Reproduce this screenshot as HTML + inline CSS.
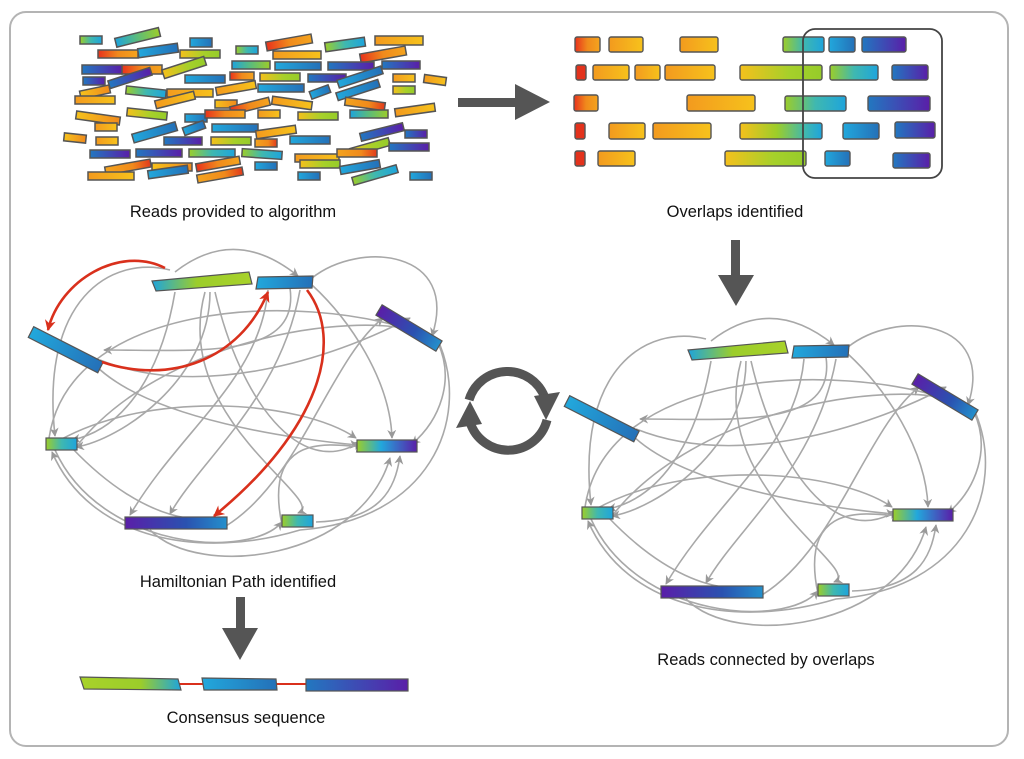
<!DOCTYPE html>
<html><head><meta charset="utf-8"><style>
html,body{margin:0;padding:0;background:#fff;}
svg{display:block;}
text{font-family:"Liberation Sans",sans-serif;font-size:16.5px;fill:#111;text-anchor:middle;}
</style></head><body>
<svg width="1024" height="759" viewBox="0 0 1024 759" xmlns="http://www.w3.org/2000/svg">
<defs>
<linearGradient id="ro"><stop offset="0" stop-color="#e8321c"/><stop offset=".5" stop-color="#f08a1c"/><stop offset="1" stop-color="#f4a41e"/></linearGradient>
<linearGradient id="oy"><stop offset="0" stop-color="#f39a1e"/><stop offset="1" stop-color="#f6c21c"/></linearGradient>
<linearGradient id="yo"><stop offset="0" stop-color="#f6c21c"/><stop offset="1" stop-color="#f08a1c"/></linearGradient>
<linearGradient id="or"><stop offset="0" stop-color="#f4a41e"/><stop offset=".6" stop-color="#f08a1c"/><stop offset="1" stop-color="#e23a1c"/></linearGradient>
<linearGradient id="yg"><stop offset="0" stop-color="#f5c01c"/><stop offset=".6" stop-color="#a6d02a"/><stop offset="1" stop-color="#96cc2a"/></linearGradient>
<linearGradient id="gc"><stop offset="0" stop-color="#9ccd2a"/><stop offset=".5" stop-color="#3fb8b0"/><stop offset="1" stop-color="#1ea4dc"/></linearGradient>
<linearGradient id="cg"><stop offset="0" stop-color="#1ea4dc"/><stop offset=".5" stop-color="#5cbc7a"/><stop offset="1" stop-color="#9ccd2a"/></linearGradient>
<linearGradient id="cb"><stop offset="0" stop-color="#22a8dc"/><stop offset="1" stop-color="#2470b8"/></linearGradient>
<linearGradient id="bp"><stop offset="0" stop-color="#2278c0"/><stop offset="1" stop-color="#5a1ea8"/></linearGradient>
<linearGradient id="pb"><stop offset="0" stop-color="#5a1ea8"/><stop offset=".6" stop-color="#2a52b0"/><stop offset="1" stop-color="#2490cc"/></linearGradient>
<linearGradient id="ygc"><stop offset="0" stop-color="#f5c01c"/><stop offset=".45" stop-color="#9ccd2a"/><stop offset=".8" stop-color="#3fb8b0"/><stop offset="1" stop-color="#1ea4dc"/></linearGradient>
<linearGradient id="gcp"><stop offset="0" stop-color="#9ccd2a"/><stop offset=".4" stop-color="#22a8dc"/><stop offset="1" stop-color="#5a1ea8"/></linearGradient>
<linearGradient id="cgg"><stop offset="0" stop-color="#1ea4dc"/><stop offset=".45" stop-color="#9ccd2a"/><stop offset="1" stop-color="#a8d22a"/></linearGradient>
<linearGradient id="ggc"><stop offset="0" stop-color="#a8d22a"/><stop offset=".6" stop-color="#9ccd2a"/><stop offset="1" stop-color="#1ea4dc"/></linearGradient>
<marker id="ga" viewBox="0 0 10 10" refX="9" refY="5" markerWidth="9" markerHeight="9" orient="auto" markerUnits="userSpaceOnUse"><path d="M0,0 L10,5 L0,10 L3,5 z" fill="#999"/></marker>
<marker id="ra" viewBox="0 0 10 10" refX="9" refY="5" markerWidth="11" markerHeight="11" orient="auto" markerUnits="userSpaceOnUse"><path d="M0,0 L10,5 L0,10 L3,5 z" fill="#d9301c"/></marker>
<g id="graph">
 <g fill="none" stroke="#a8a8a8" stroke-width="1.6" marker-end="url(#ga)">
  <path d="M175,272 Q235,225 298,276"/>
  <path d="M312,278 C360,240 460,250 432,336"/>
  <path d="M170,270 C110,255 40,300 55,436"/>
  <path d="M100,360 C200,400 330,360 410,318"/>
  <path d="M290,288 C300,360 200,350 104,350"/>
  <path d="M175,292 C160,380 120,430 72,440"/>
  <path d="M210,292 C210,380 120,440 76,447"/>
  <path d="M205,292 C170,420 330,500 298,513"/>
  <path d="M215,292 C240,400 300,480 360,442"/>
  <path d="M268,290 C260,380 180,430 130,515"/>
  <path d="M300,290 C280,400 200,460 170,514"/>
  <path d="M312,285 C350,320 390,380 392,438"/>
  <path d="M438,343 C455,380 440,420 412,444"/>
  <path d="M95,365 C150,420 300,440 358,445"/>
  <path d="M60,440 C150,390 300,400 356,438"/>
  <path d="M76,447 C160,340 350,310 420,332"/>
  <path d="M55,450 C100,550 250,560 282,522"/>
  <path d="M226,526 C300,480 330,360 383,318"/>
  <path d="M150,530 C200,580 360,560 390,458"/>
  <path d="M48,447 C60,300 300,290 420,333"/>
  <path d="M316,522 C380,520 395,490 400,456"/>
  <path d="M282,525 C260,420 350,450 362,446"/>
  <path d="M72,448 C150,530 210,520 212,517"/>
  <path d="M440,345 C470,420 430,520 300,530 C200,560 90,540 52,452"/>
 </g>
 <polygon points="152,281 249,272 252,284 156,291" fill="url(#cgg)" stroke="#555" stroke-width="1.2"/>
 <polygon points="258,277 313,276 312,288 256,289" fill="url(#cb)" stroke="#555" stroke-width="1.2"/>
 <g transform="translate(31,332) rotate(27)"><rect x="0" y="-6" width="78" height="12" fill="url(#cb)" stroke="#555" stroke-width="1.2"/></g>
 <g transform="translate(379,310) rotate(31)"><rect x="0" y="-6" width="70" height="12" fill="url(#pb)" stroke="#555" stroke-width="1.2"/></g>
 <rect x="46" y="438" width="31" height="12" fill="url(#gc)" stroke="#555" stroke-width="1.2"/>
 <rect x="357" y="440" width="60" height="12" fill="url(#gcp)" stroke="#555" stroke-width="1.2"/>
 <rect x="125" y="517" width="102" height="12" fill="url(#pb)" stroke="#555" stroke-width="1.2"/>
 <rect x="282" y="515" width="31" height="12" fill="url(#gc)" stroke="#555" stroke-width="1.2"/>
</g>
</defs>

<rect x="10" y="12" width="998" height="734" rx="16" fill="#fff" stroke="#b4b4b4" stroke-width="2"/>

<!-- reads -->
<g stroke="#555" stroke-width="1.5">
<rect x="80" y="36" width="22" height="8" fill="url(#gc)"/>
<rect x="115" y="33" width="45" height="9" fill="url(#cg)" transform="rotate(-14 137 37)"/>
<rect x="190" y="38" width="22" height="9" fill="url(#cb)"/>
<rect x="236" y="46" width="22" height="8" fill="url(#gc)"/>
<rect x="266" y="38" width="46" height="9" fill="url(#ro)" transform="rotate(-10 289 42)"/>
<rect x="325" y="40" width="40" height="9" fill="url(#gc)" transform="rotate(-8 345 44)"/>
<rect x="375" y="36" width="48" height="9" fill="url(#oy)"/>
<rect x="98" y="50" width="40" height="8" fill="url(#ro)"/>
<rect x="138" y="46" width="40" height="9" fill="url(#cb)" transform="rotate(-8 158 50)"/>
<rect x="180" y="50" width="40" height="8" fill="url(#yg)"/>
<rect x="273" y="51" width="48" height="8" fill="url(#oy)"/>
<rect x="360" y="50" width="46" height="9" fill="url(#ro)" transform="rotate(-10 383 54)"/>
<rect x="82" y="65" width="40" height="9" fill="url(#bp)"/>
<rect x="122" y="65" width="40" height="9" fill="url(#ro)"/>
<rect x="162" y="63" width="44" height="9" fill="url(#yg)" transform="rotate(-18 184 67)"/>
<rect x="232" y="61" width="38" height="8" fill="url(#cg)"/>
<rect x="275" y="62" width="46" height="8" fill="url(#cb)"/>
<rect x="328" y="62" width="46" height="8" fill="url(#bp)"/>
<rect x="382" y="61" width="38" height="8" fill="url(#bp)"/>
<rect x="83" y="77" width="22" height="8" fill="url(#bp)"/>
<rect x="108" y="74" width="44" height="8" fill="url(#bp)" transform="rotate(-18 130 78)"/>
<rect x="185" y="75" width="40" height="8" fill="url(#cb)"/>
<rect x="230" y="72" width="24" height="8" fill="url(#ro)"/>
<rect x="260" y="73" width="40" height="8" fill="url(#yg)"/>
<rect x="308" y="74" width="38" height="8" fill="url(#bp)"/>
<rect x="337" y="73" width="46" height="8" fill="url(#cb)" transform="rotate(-18 360 77)"/>
<rect x="393" y="74" width="22" height="8" fill="url(#oy)"/>
<rect x="424" y="76" width="22" height="8" fill="url(#oy)" transform="rotate(8 435 80)"/>
<rect x="80" y="88" width="30" height="8" fill="url(#yo)" transform="rotate(-12 95 92)"/>
<rect x="126" y="88" width="40" height="8" fill="url(#gc)" transform="rotate(6 146 92)"/>
<rect x="167" y="89" width="46" height="8" fill="url(#oy)"/>
<rect x="216" y="84" width="40" height="8" fill="url(#oy)" transform="rotate(-10 236 88)"/>
<rect x="258" y="84" width="46" height="8" fill="url(#cb)"/>
<rect x="310" y="88" width="20" height="8" fill="url(#cb)" transform="rotate(-20 320 92)"/>
<rect x="336" y="86" width="44" height="8" fill="url(#cb)" transform="rotate(-18 358 90)"/>
<rect x="393" y="86" width="22" height="8" fill="url(#yg)"/>
<rect x="75" y="96" width="40" height="8" fill="url(#oy)"/>
<rect x="155" y="96" width="40" height="8" fill="url(#oy)" transform="rotate(-14 175 100)"/>
<rect x="215" y="100" width="22" height="8" fill="url(#yo)"/>
<rect x="230" y="102" width="40" height="8" fill="url(#ro)" transform="rotate(-14 250 106)"/>
<rect x="272" y="99" width="40" height="8" fill="url(#oy)" transform="rotate(8 292 103)"/>
<rect x="345" y="100" width="40" height="8" fill="url(#or)" transform="rotate(8 365 104)"/>
<rect x="76" y="114" width="44" height="8" fill="url(#yo)" transform="rotate(8 98 118)"/>
<rect x="127" y="110" width="40" height="8" fill="url(#yg)" transform="rotate(6 147 114)"/>
<rect x="185" y="114" width="22" height="8" fill="url(#cb)"/>
<rect x="205" y="110" width="40" height="8" fill="url(#ro)"/>
<rect x="258" y="110" width="22" height="8" fill="url(#oy)"/>
<rect x="298" y="112" width="40" height="8" fill="url(#yg)"/>
<rect x="350" y="110" width="38" height="8" fill="url(#cg)"/>
<rect x="395" y="106" width="40" height="8" fill="url(#oy)" transform="rotate(-8 415 110)"/>
<rect x="95" y="123" width="22" height="8" fill="url(#oy)"/>
<rect x="132" y="128" width="45" height="9" fill="url(#cb)" transform="rotate(-16 154 132)"/>
<rect x="183" y="124" width="22" height="8" fill="url(#cb)" transform="rotate(-20 194 128)"/>
<rect x="212" y="124" width="46" height="8" fill="url(#cb)"/>
<rect x="256" y="128" width="40" height="8" fill="url(#oy)" transform="rotate(-8 276 132)"/>
<rect x="290" y="136" width="40" height="8" fill="url(#cb)"/>
<rect x="360" y="128" width="44" height="8" fill="url(#bp)" transform="rotate(-14 382 132)"/>
<rect x="405" y="130" width="22" height="8" fill="url(#bp)"/>
<rect x="64" y="134" width="22" height="8" fill="url(#yo)" transform="rotate(6 75 138)"/>
<rect x="96" y="137" width="22" height="8" fill="url(#oy)"/>
<rect x="164" y="137" width="38" height="8" fill="url(#bp)"/>
<rect x="211" y="137" width="40" height="8" fill="url(#yg)"/>
<rect x="255" y="139" width="22" height="8" fill="url(#or)"/>
<rect x="350" y="143" width="40" height="8" fill="url(#yg)" transform="rotate(-16 370 147)"/>
<rect x="389" y="143" width="40" height="8" fill="url(#bp)"/>
<rect x="90" y="150" width="40" height="8" fill="url(#bp)"/>
<rect x="136" y="149" width="46" height="8" fill="url(#bp)"/>
<rect x="189" y="149" width="46" height="8" fill="url(#gc)"/>
<rect x="242" y="150" width="40" height="8" fill="url(#gc)" transform="rotate(4 262 154)"/>
<rect x="295" y="154" width="44" height="8" fill="url(#oy)"/>
<rect x="337" y="149" width="40" height="8" fill="url(#or)"/>
<rect x="105" y="163" width="46" height="8" fill="url(#or)" transform="rotate(-10 128 167)"/>
<rect x="152" y="163" width="40" height="8" fill="url(#yo)"/>
<rect x="196" y="160" width="44" height="8" fill="url(#ro)" transform="rotate(-10 218 164)"/>
<rect x="255" y="162" width="22" height="8" fill="url(#cb)"/>
<rect x="300" y="160" width="40" height="8" fill="url(#yg)"/>
<rect x="340" y="163" width="40" height="8" fill="url(#cb)" transform="rotate(-10 360 167)"/>
<rect x="88" y="172" width="46" height="8" fill="url(#oy)"/>
<rect x="148" y="168" width="40" height="8" fill="url(#cb)" transform="rotate(-8 168 172)"/>
<rect x="197" y="171" width="46" height="8" fill="url(#or)" transform="rotate(-10 220 175)"/>
<rect x="298" y="172" width="22" height="8" fill="url(#cb)"/>
<rect x="352" y="171" width="46" height="8" fill="url(#gc)" transform="rotate(-16 375 175)"/>
<rect x="410" y="172" width="22" height="8" fill="url(#cb)"/>
</g>

<!-- overlaps -->
<g stroke="#555" stroke-width="1.4">
<rect x="575" y="37" width="25" height="15" rx="2" fill="url(#ro)"/>
<rect x="609" y="37" width="34" height="15" rx="2" fill="url(#oy)"/>
<rect x="680" y="37" width="38" height="15" rx="2" fill="url(#oy)"/>
<rect x="783" y="37" width="41" height="15" rx="2" fill="url(#gc)"/>
<rect x="829" y="37" width="26" height="15" rx="2" fill="url(#cb)"/>
<rect x="862" y="37" width="44" height="15" rx="2" fill="url(#bp)"/>
<rect x="576" y="65" width="10" height="15" rx="2" fill="#e3321c"/>
<rect x="593" y="65" width="36" height="15" rx="2" fill="url(#oy)"/>
<rect x="635" y="65" width="25" height="15" rx="2" fill="url(#oy)"/>
<rect x="665" y="65" width="50" height="15" rx="2" fill="url(#oy)"/>
<rect x="740" y="65" width="82" height="15" rx="2" fill="url(#yg)"/>
<rect x="830" y="65" width="48" height="15" rx="2" fill="url(#gc)"/>
<rect x="892" y="65" width="36" height="15" rx="2" fill="url(#bp)"/>
<rect x="574" y="95" width="24" height="16" rx="2" fill="url(#ro)"/>
<rect x="687" y="95" width="68" height="16" rx="2" fill="url(#oy)"/>
<rect x="785" y="96" width="61" height="15" rx="2" fill="url(#gc)"/>
<rect x="868" y="96" width="62" height="15" rx="2" fill="url(#bp)"/>
<rect x="575" y="123" width="10" height="16" rx="2" fill="#e3321c"/>
<rect x="609" y="123" width="36" height="16" rx="2" fill="url(#oy)"/>
<rect x="653" y="123" width="58" height="16" rx="2" fill="url(#oy)"/>
<rect x="740" y="123" width="82" height="16" rx="2" fill="url(#ygc)"/>
<rect x="843" y="123" width="36" height="16" rx="2" fill="url(#cb)"/>
<rect x="895" y="122" width="40" height="16" rx="2" fill="url(#bp)"/>
<rect x="575" y="151" width="10" height="15" rx="2" fill="#e3321c"/>
<rect x="598" y="151" width="37" height="15" rx="2" fill="url(#oy)"/>
<rect x="725" y="151" width="81" height="15" rx="2" fill="url(#yg)"/>
<rect x="825" y="151" width="25" height="15" rx="2" fill="url(#cb)"/>
<rect x="893" y="153" width="37" height="15" rx="2" fill="url(#bp)"/>
</g>
<rect x="803" y="29" width="139" height="149" rx="12" fill="none" stroke="#444" stroke-width="1.8"/>

<!-- big arrows -->
<g fill="#555">
<rect x="458" y="98" width="62" height="9"/>
<polygon points="515,84 550,102 515,120"/>
<rect x="731" y="240" width="9" height="40"/>
<polygon points="718,275 736,306 754,275"/>
<rect x="236" y="597" width="9" height="35"/>
<polygon points="222,628 240,660 258,628"/>
</g>
<g fill="none" stroke="#555" stroke-width="9">
<path d="M469,400 A40,40 0 0 1 545,398"/>
<path d="M547,420 A40,40 0 0 1 470,422"/>
</g>
<polygon points="534,396 560,392 546,420" fill="#555"/>
<polygon points="482,424 456,428 470,401" fill="#555"/>

<!-- graphs -->
<use href="#graph"/>
<use href="#graph" transform="translate(536,69)"/>

<!-- red path -->
<g fill="none" stroke="#d9301c" stroke-width="2.6" marker-end="url(#ra)">
<path d="M165,268 C120,245 60,280 48,330"/>
<path d="M102,362 C170,385 240,360 268,292"/>
<path d="M307,290 C345,340 320,430 214,516"/>
</g>

<!-- consensus -->
<line x1="178" y1="684" x2="204" y2="684" stroke="#d9301c" stroke-width="2"/>
<line x1="276" y1="684" x2="308" y2="684" stroke="#d9301c" stroke-width="2"/>
<polygon points="80,677 178,679 181,690 84,689" fill="url(#ggc)" stroke="#555" stroke-width="1.2"/>
<polygon points="202,678 276,679 277,690 204,690" fill="url(#cb)" stroke="#555" stroke-width="1.2"/>
<rect x="306" y="679" width="102" height="12" fill="url(#bp)" stroke="#555" stroke-width="1.2"/>

<text x="233" y="217">Reads provided to algorithm</text>
<text x="735" y="217">Overlaps identified</text>
<text x="238" y="587">Hamiltonian Path identified</text>
<text x="766" y="665">Reads connected by overlaps</text>
<text x="246" y="723">Consensus sequence</text>
</svg>
</body></html>
